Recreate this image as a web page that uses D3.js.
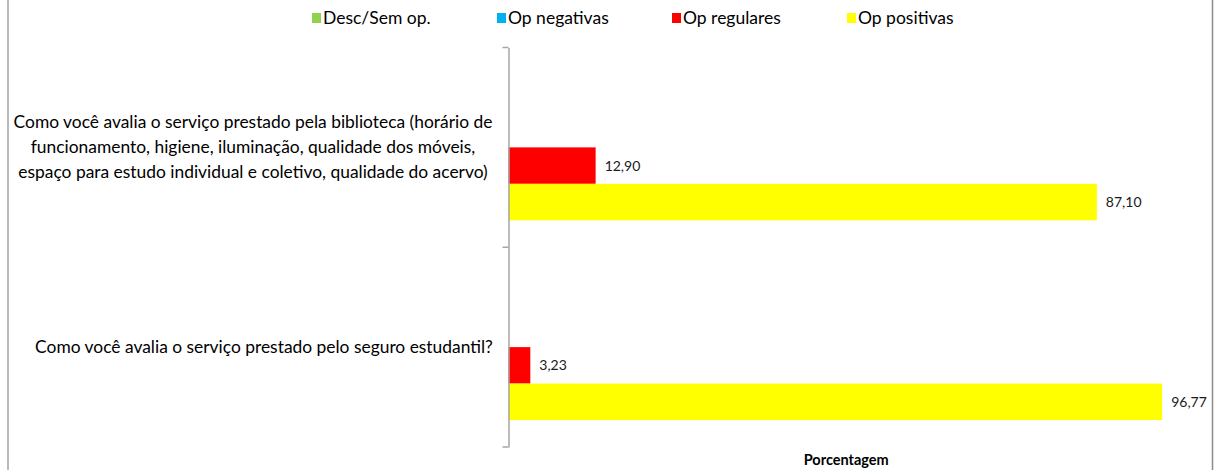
<!DOCTYPE html>
<html>
<head>
<meta charset="utf-8">
<script src="https://cdn.jsdelivr.net/npm/d3@7"></script>
<style>
  html, body { margin: 0; padding: 0; background: #fff; }
  svg { display: block; }
</style>
</head>
<body>
<svg id="chart" width="1216" height="470"></svg>
<script>
// ---- Data ----
const categories = [
  ["Como você avalia o serviço prestado pela biblioteca (horário de",
   "funcionamento, higiene, iluminação, qualidade dos móveis,",
   "espaço para estudo individual e coletivo, qualidade do acervo)"],
  ["Como você avalia o serviço prestado pelo seguro estudantil?"]
];
const seriesNames = ["Desc/Sem op.", "Op negativas", "Op regulares", "Op positivas"];
const seriesColors = ["#92d050", "#00b0f0", "#ff0000", "#ffff00"];
const descSemOp   = [0, 0];
const opNegativas = [0, 0];
const opRegulares = [12.90, 3.23];
const opPositivas = [87.10, 96.77];
const seriesValues = [descSemOp, opNegativas, opRegulares, opPositivas];
const xDomain = [0, 100];
const axisTitle = "Porcentagem";

// ---- Layout ----
const W = 1216, H = 470;
const plotLeft = 508.5, plotRight = 1184, plotTop = 47.5, plotBottom = 447;
const svg = d3.select("#chart");
const font = "Lato, 'Open Sans', sans-serif";

// frame borders (left and right edges)
svg.append("line").attr("x1", 8).attr("x2", 8).attr("y1", 0).attr("y2", H)
  .attr("stroke", "#8c8c8c").attr("stroke-width", 1.2);
svg.append("line").attr("x1", 1212.5).attr("x2", 1212.5).attr("y1", 0).attr("y2", H)
  .attr("stroke", "#8c8c8c").attr("stroke-width", 1.5);

const catIdx = categories.map((c, i) => i);
const x = d3.scaleLinear().domain(xDomain).range([plotLeft, plotRight]);
const y = d3.scaleBand().domain(catIdx).range([plotTop, plotBottom]).padding(0);
const yInner = d3.scaleBand().domain(d3.range(seriesNames.length))
  .range([0, y.bandwidth()]).paddingInner(0).paddingOuter(0.74);

const locale = d3.formatLocale({decimal: ",", thousands: ".", grouping: [3], currency: ["R$", ""]});
const fmt = locale.format(".2f");

// bars
const groups = svg.append("g").selectAll("g").data(catIdx).join("g")
  .attr("transform", i => `translate(0,${y(i)})`);

seriesNames.forEach((name, s) => {
  groups.append("rect")
    .attr("x", x(0))
    .attr("y", yInner(s))
    .attr("width", i => x(seriesValues[s][i]) - x(0))
    .attr("height", yInner.bandwidth())
    .attr("fill", seriesColors[s]);
  groups.filter(i => seriesValues[s][i] > 0).append("text")
    .attr("x", i => x(seriesValues[s][i]) + 9)
    .attr("y", yInner(s) + yInner.bandwidth() / 2)
    .attr("dy", "0.35em")
    .attr("font-family", font)
    .attr("font-size", 14)
    .attr("fill", "#1a1a1a")
    .text(i => fmt(seriesValues[s][i]));
});

// y axis
const yAxis = d3.axisLeft(y).tickSizeInner(0).tickSizeOuter(0).tickFormat("");
const axG = svg.append("g").attr("transform", `translate(${plotLeft},0)`).call(yAxis);
axG.select(".domain").attr("stroke", "#a6a6a6").attr("stroke-width", 1.5);
// category boundary ticks
const bounds = catIdx.map(i => y(i)).concat([y(catIdx[catIdx.length - 1]) + y.bandwidth()]);
axG.selectAll(".bt").data(bounds).join("line")
  .attr("x1", -6).attr("x2", 0).attr("y1", d => d).attr("y2", d => d)
  .attr("stroke", "#a6a6a6").attr("stroke-width", 1.5);

// category labels
const lineH = 25;
catIdx.forEach(i => {
  const lines = categories[i];
  const cy = y(i) + y.bandwidth() / 2;
  const t = svg.append("text")
    .attr("font-family", font).attr("font-size", 17.4).attr("fill", "#000")
    .attr("text-anchor", "middle");
  lines.forEach((ln, k) => {
    t.append("tspan")
      .attr("x", lines.length > 1 ? 253 : 264)
      .attr("y", cy + (k - (lines.length - 1) / 2) * lineH)
      .attr("dy", "0.35em")
      .text(ln);
  });
});

// axis title
svg.append("text")
  .attr("x", (plotLeft + plotRight) / 2).attr("y", 460).attr("dy", "0.35em")
  .attr("text-anchor", "middle").attr("font-family", font).attr("font-weight", "bold")
  .attr("font-size", 14.5).attr("fill", "#000").text(axisTitle);

// legend
const legendX = [312, 497, 672, 847];
const lg = svg.append("g").selectAll("g").data(seriesNames).join("g")
  .attr("transform", (d, i) => `translate(${legendX[i]},18)`);
lg.append("rect").attr("x", 0).attr("y", -5).attr("width", 9).attr("height", 10)
  .attr("fill", (d, i) => seriesColors[i]);
lg.append("text").attr("x", 11).attr("y", 0).attr("dy", "0.35em")
  .attr("font-family", font).attr("font-size", 17.5).attr("fill", "#000")
  .text(d => d);
</script>
</body>
</html>
